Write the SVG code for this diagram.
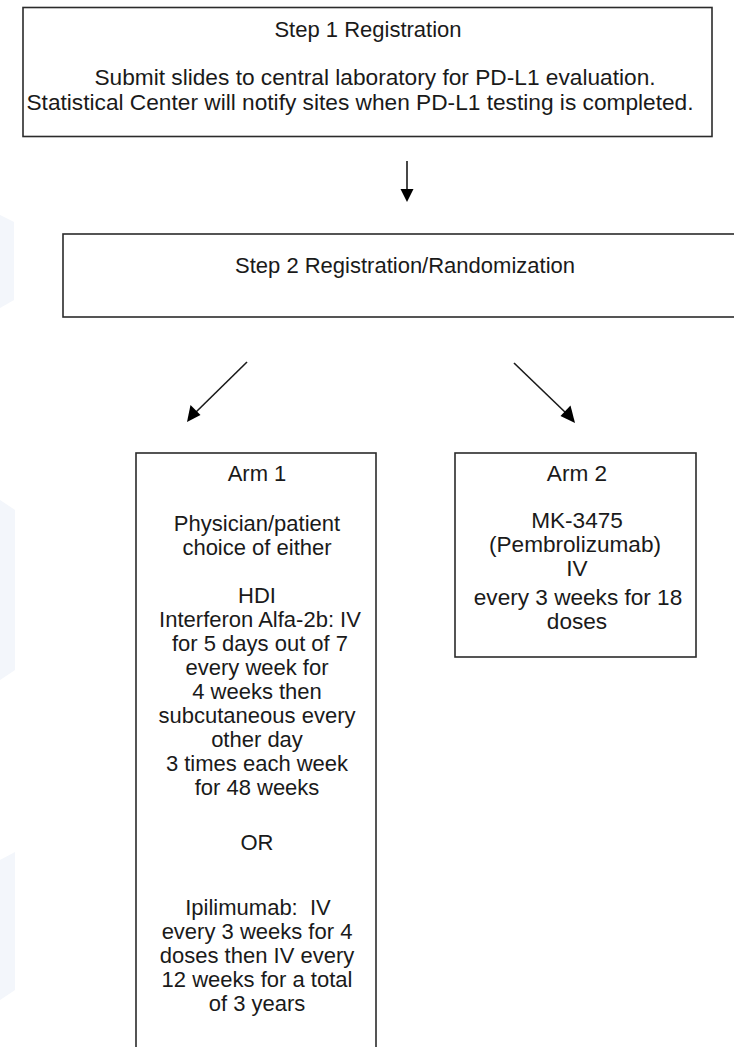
<svg xmlns="http://www.w3.org/2000/svg" width="734" height="1047" viewBox="0 0 734 1047">
  <style>
    .box { fill: #ffffff; stroke: #2b2b2b; stroke-width: 1.6; }
    .t { font-family: "Liberation Sans", Arial, sans-serif; font-size: 22px; fill: #1a1a1a; text-anchor: middle; }
    .big { font-size: 22.7px; }
    .a2 { font-size: 22.6px; }
    .wm { fill: #f3f6fb; }
  </style>
  <rect width="734" height="1047" fill="#ffffff"/>
  <g id="watermark">
    <polygon class="wm" points="0,215 14,222 14,300 0,308"/>
    <polygon class="wm" points="0,500 15,510 15,670 0,680"/>
    <polygon class="wm" points="0,860 15,852 15,990 0,1000"/>
  </g>
  <g id="connectors">
    <line x1="407" y1="161" x2="407" y2="192" stroke="#1a1a1a" stroke-width="1.6"/>
    <path d="M400.5,189 L413.5,189 L407,202 Z" fill="#000"/>
    <line x1="247" y1="362" x2="194" y2="414" stroke="#1a1a1a" stroke-width="1.6"/>
    <path d="M187,422 L190.5,405 L200.5,415 Z" fill="#000"/>
    <line x1="514" y1="363" x2="567" y2="414" stroke="#1a1a1a" stroke-width="1.6"/>
    <path d="M575,423 L560.5,416 L570.5,405.5 Z" fill="#000"/>
  </g>
  <g id="step1">
    <rect class="box" x="23" y="7.5" width="689" height="129"/>
    <text class="t" x="368" y="37">Step 1 Registration</text>
    <text class="t big" x="375" y="85">Submit slides to central laboratory for PD-L1 evaluation.</text>
    <text class="t big" x="360" y="110">Statistical Center will notify sites when PD-L1 testing is completed.</text>
  </g>
  <g id="step2">
    <rect class="box" x="63" y="234" width="680" height="83"/>
    <text class="t" x="405" y="273">Step 2 Registration/Randomization</text>
  </g>
  <g id="arm1">
    <rect class="box" x="136" y="453" width="240" height="610"/>
    <text class="t" x="257" y="481">Arm 1</text>
    <text class="t" x="257" y="531">Physician/patient</text>
    <text class="t" x="257" y="555">choice of either</text>
    <text class="t" x="257" y="603">HDI</text>
    <text class="t" x="260" y="627">Interferon Alfa-2b: IV</text>
    <text class="t" x="260" y="651">for 5 days out of 7</text>
    <text class="t" x="257" y="675">every week for</text>
    <text class="t" x="257" y="699">4 weeks then</text>
    <text class="t" x="257" y="723">subcutaneous every</text>
    <text class="t" x="257" y="747">other day</text>
    <text class="t" x="257" y="771">3 times each week</text>
    <text class="t" x="257" y="795">for 48 weeks</text>
    <text class="t" x="257" y="850">OR</text>
    <text class="t" x="258" y="915" xml:space="preserve">Ipilimumab:  IV</text>
    <text class="t" x="257" y="939">every 3 weeks for 4</text>
    <text class="t" x="257" y="963">doses then IV every</text>
    <text class="t" x="257" y="987">12 weeks for a total</text>
    <text class="t" x="257" y="1011">of 3 years</text>
  </g>
  <g id="arm2">
    <rect class="box" x="455" y="453" width="241" height="204"/>
    <text class="t a2" x="577" y="481">Arm 2</text>
    <text class="t a2" x="577" y="528">MK-3475</text>
    <text class="t a2" x="575" y="552">(Pembrolizumab)</text>
    <text class="t a2" x="577" y="576">IV</text>
    <text class="t a2" x="578" y="605">every 3 weeks for 18</text>
    <text class="t a2" x="577" y="629">doses</text>
  </g>
</svg>
